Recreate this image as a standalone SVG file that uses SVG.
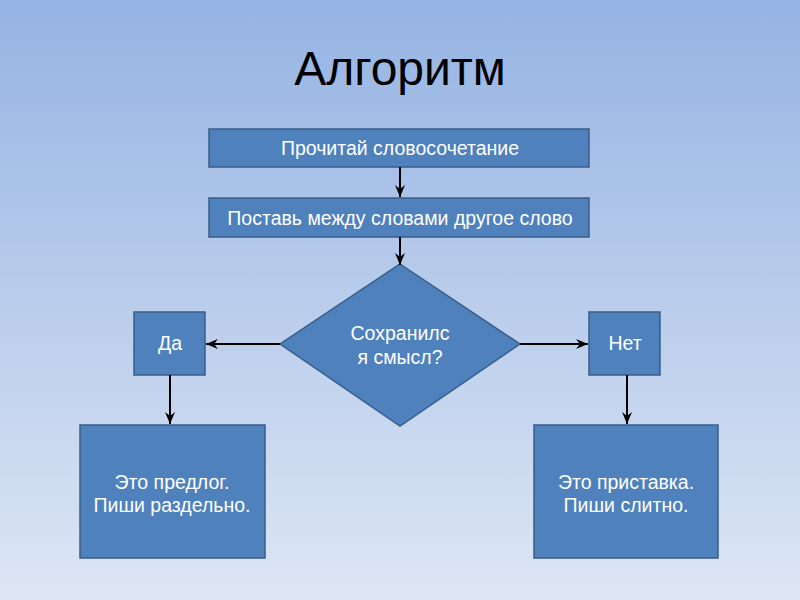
<svg xmlns="http://www.w3.org/2000/svg" width="800" height="600" viewBox="0 0 800 600">
<defs>
<linearGradient id="bg" x1="0" y1="0" x2="0" y2="1">
<stop offset="0" stop-color="#95B3E3"/>
<stop offset="1" stop-color="#DDE6F4"/>
</linearGradient>
<marker id="arr" viewBox="0 0 12 10" refX="12" refY="5" markerWidth="12" markerHeight="10" markerUnits="userSpaceOnUse" orient="auto">
<path d="M0,0 L12,5 L0,10 L4,5 Z" fill="#000"/>
</marker>
<style>
.box{fill:#4F81BD;stroke:#385D8A;stroke-width:1.5}
.t{font-family:"Liberation Sans",Arial,sans-serif;font-size:19.5px;fill:#fff;text-anchor:middle}
.c{stroke:#000;stroke-width:2;fill:none;marker-end:url(#arr)}
</style>
</defs>
<rect width="800" height="600" fill="url(#bg)"/>
<text x="400" y="85" font-family="'Liberation Sans',Arial,sans-serif" font-size="48" text-anchor="middle" fill="#000">Алгоритм</text>
<g id="n1"><rect class="box" x="209" y="129" width="380" height="38"/><text class="t" x="400" y="155">Прочитай словосочетание</text></g>
<g id="n2"><rect class="box" x="209" y="198" width="380" height="39"/><text class="t" x="400" y="225">Поставь между словами другое слово</text></g>
<g id="n3"><polygon class="box" points="400,264 520,344 400,426 280,344"/><text class="t" x="400" y="340">Сохранилс</text><text class="t" x="400" y="364">я смысл?</text></g>
<g id="n4"><rect class="box" x="134" y="312" width="71" height="63"/><text class="t" x="170" y="350">Да</text></g>
<g id="n5"><rect class="box" x="589" y="312" width="71" height="63"/><text class="t" x="625" y="350">Нет</text></g>
<g id="n6"><rect class="box" x="80" y="425" width="185" height="133"/><text class="t" x="172" y="489">Это предлог.</text><text class="t" x="172" y="512">Пиши раздельно.</text></g>
<g id="n7"><rect class="box" x="534" y="425" width="184" height="133"/><text class="t" x="626" y="489">Это приставка.</text><text class="t" x="626" y="512">Пиши слитно.</text></g>
<g id="connectors">
<line class="c" x1="400" y1="167" x2="400" y2="197"/>
<line class="c" x1="400" y1="237" x2="400" y2="265"/>
<line class="c" x1="280" y1="344" x2="206" y2="344"/>
<line class="c" x1="520" y1="344" x2="588" y2="344"/>
<line class="c" x1="170" y1="375" x2="170" y2="424"/>
<line class="c" x1="627" y1="375" x2="627" y2="424"/>
</g>
</svg>
